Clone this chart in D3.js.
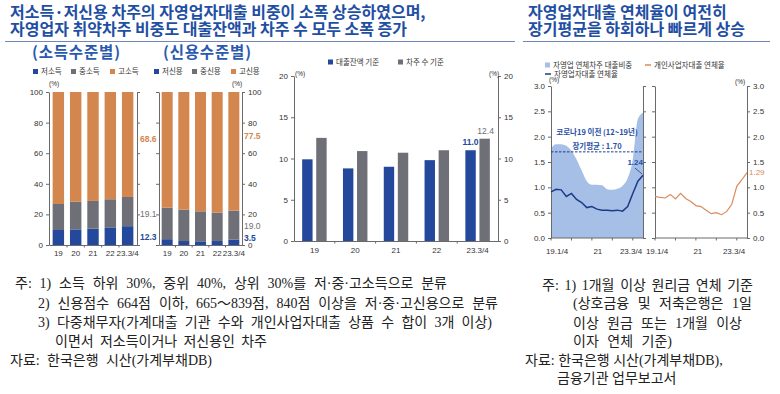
<!DOCTYPE html>
<html>
<head>
<meta charset="utf-8">
<script src="https://cdn.jsdelivr.net/npm/d3@7"></script>
<style>
body { margin: 0; background: #fff; }
text { font-family: 'Noto Sans CJK KR', 'Noto Sans', sans-serif; }
.tick text, .num { font-family: 'Liberation Sans', 'Noto Sans CJK KR', sans-serif; }
.note { font-family: 'Liberation Serif', 'Noto Sans CJK KR', serif; }
</style>
</head>
<body>
<svg id="chart" width="780" height="394"></svg>
<script>
'use strict';

// categories
let years = ['19', '20', '21', '22', '23.3/4'];
let quarters = ['19.1/4', '19.2/4', '19.3/4', '19.4/4', '20.1/4', '20.2/4', '20.3/4', '20.4/4',
    '21.1/4', '21.2/4', '21.3/4', '21.4/4', '22.1/4', '22.2/4', '22.3/4', '22.4/4',
    '23.1/4', '23.2/4', '23.3/4'];

// income level shares (%)
let incomeLow = [9.8, 10.2, 10.7, 11.5, 12.3];
let incomeMid = [17.0, 18.1, 18.1, 18.4, 19.1];
let incomeHigh = [73.2, 71.7, 71.2, 70.1, 68.6];

// credit level shares (%)
let creditLow = [3.8, 2.6, 2.4, 2.6, 3.5];
let creditMid = [20.6, 20.5, 19.6, 18.6, 19.0];
let creditHigh = [75.6, 76.9, 78.0, 78.8, 77.5];

// vulnerable borrowers share (%)
let byBalance = [9.9, 8.8, 9.0, 9.8, 11.0];
let byBorrowers = [12.5, 10.9, 10.7, 11.0, 12.4];

// delinquency (%)
let arrearShare = [1.77, 1.85, 1.85, 1.82, 1.72, 1.55, 1.33, 1.12, 1.05, 1.05, 1.04, 0.96,
    0.95, 0.97, 1.03, 1.18, 1.55, 2.35, 2.47];
let selfEmpRate = [0.91, 0.96, 0.95, 0.82, 0.88, 0.76, 0.70, 0.60, 0.62, 0.57, 0.55, 0.55,
    0.54, 0.55, 0.53, 0.62, 0.88, 1.12, 1.24];
let soleRate = [0.82, 0.80, 0.79, 0.86, 0.77, 0.88, 0.78, 0.72, 0.64, 0.62, 0.55, 0.48,
    0.50, 0.46, 0.52, 0.66, 1.02, 1.15, 1.29];
let longAvg = 1.70;

let COLOR = {
    BLUE: '#24489b',
    GRAY: '#6e6f77',
    ORANGE: '#d4864f',
    TITLE: '#1f4fa3',
    AREA: '#a6bfe7',
    LINE: '#1d3a87',
    SOLE: '#d98b58',
    AXIS: '#6a6a6a',
    TEXT: '#333'
};

let svg = d3.select('#chart');

// ---- titles (one text, two lines)
function title(x, lines, lineEnd) {
    let t = svg.append('text').attr('font-size', 16).attr('font-weight', 700).attr('fill', COLOR.TITLE);
    lines.forEach(function(s, i) {
        t.append('tspan').attr('x', x).attr('y', 18 + i * 17).text(s);
    });
    svg.append('line').attr('x1', x - 5).attr('x2', lineEnd)
        .attr('y1', 41.5).attr('y2', 41.5)
        .attr('stroke', '#6d87b8').attr('stroke-width', 1);
}
title(10, ['저소득·저신용 차주의 자영업자대출 비중이 소폭 상승하였으며,',
    '자영업자 취약차주 비중도 대출잔액과 차주 수 모두 소폭 증가'], 515);
title(528, ['자영업자대출 연체율이 여전히', '장기평균을 하회하나 빠르게 상승'], 770);

svg.append('text').attr('x', 32).attr('y', 58).attr('font-size', 15.5).attr('font-weight', 700)
    .attr('fill', '#2a5ab0').attr('textLength', 88).text('(소득수준별)');
svg.append('text').attr('x', 163).attr('y', 58).attr('font-size', 15.5).attr('font-weight', 700)
    .attr('fill', '#2a5ab0').attr('textLength', 88).text('(신용수준별)');

// ---- legend helpers
function legendBox(x, y, color, label) {
    svg.append('rect').attr('x', x).attr('y', y - 2.5).attr('width', 5).attr('height', 5).attr('fill', color);
    svg.append('text').attr('x', x + 8).attr('y', y + 2.5).attr('font-size', 7.5)
        .attr('fill', COLOR.TEXT).text(label);
}
function legendLine(x, y, color, label) {
    svg.append('line').attr('x1', x).attr('x2', x + 6).attr('y1', y).attr('y2', y)
        .attr('stroke', color).attr('stroke-width', 1.5);
    svg.append('text').attr('x', x + 9).attr('y', y + 2.5).attr('font-size', 7.5)
        .attr('fill', COLOR.TEXT).text(label);
}

// ---- stacked bars
let yPct = d3.scaleLinear().domain([0, 100]).range([245, 92]);

function stackChart(left, right, po, low, mid, high, labelSide) {
    let x = d3.scaleBand().domain(years).range([left, right]).paddingInner(0.34).paddingOuter(po);
    let rows = years.map(function(d, i) { return { k: d, low: low[i], mid: mid[i], high: high[i] }; });
    let series = d3.stack().keys(['low', 'mid', 'high'])(rows);
    let fills = { low: COLOR.BLUE, mid: COLOR.GRAY, high: COLOR.ORANGE };
    let g = svg.append('g');
    g.selectAll('g').data(series).enter().append('g')
        .attr('fill', function(s) { return fills[s.key]; })
        .selectAll('rect').data(function(s) { return s; }).enter().append('rect')
        .attr('x', function(d) { return x(d.data.k); })
        .attr('y', function(d) { return yPct(d[1]); })
        .attr('width', x.bandwidth())
        .attr('height', function(d) { return yPct(d[0]) - yPct(d[1]); });

    // axes
    let ticks = [0, 20, 40, 60, 80, 100];
    let la = g.append('g').attr('transform', 'translate(' + left + ',0)')
        .call(d3.axisLeft(yPct).tickValues(ticks).tickSize(3).tickSizeOuter(0));
    let ra = g.append('g').attr('transform', 'translate(' + right + ',0)')
        .call(d3.axisRight(yPct).tickValues(ticks).tickSize(3).tickSizeOuter(0));
    if (labelSide === 'left') ra.selectAll('text').remove(); else la.selectAll('text').remove();
    g.append('g').attr('transform', 'translate(0,245)')
        .call(d3.axisBottom(x).tickSize(0).tickPadding(5));
    // small ticks between categories
    years.slice(1).forEach(function(d) {
        let xx = x(d) - x.step() * 0.34 / 2;
        g.append('line').attr('x1', xx).attr('x2', xx).attr('y1', 245).attr('y2', 247.5)
            .attr('stroke', COLOR.AXIS);
    });
    return { x: x, g: g };
}

stackChart(49, 137, 0.21, incomeLow, incomeMid, incomeHigh, 'left');
stackChart(159, 242, 0.16, creditLow, creditMid, creditHigh, 'right');

legendBox(33, 71.5, COLOR.BLUE, '저소득');
legendBox(71, 71.5, COLOR.GRAY, '중소득');
legendBox(110, 71.5, COLOR.ORANGE, '고소득');
legendBox(154, 71.5, COLOR.BLUE, '저신용');
legendBox(192, 71.5, COLOR.GRAY, '중신용');
legendBox(231, 71.5, COLOR.ORANGE, '고신용');

function unit(x, y) {
    svg.append('text').attr('class', 'num').attr('x', x).attr('y', y).attr('font-size', 6.5)
        .attr('fill', COLOR.TEXT).text('(%)');
}
unit(49, 86);
unit(232, 86);

// value labels of the last bars
function valLabel(x, y, color, s, bold) {
    svg.append('text').attr('class', 'num').attr('x', x).attr('y', y).attr('dy', '0.35em')
        .attr('font-size', 8.5).attr('font-weight', bold ? 700 : 400)
        .attr('fill', color).text(s);
}
valLabel(140, 139, COLOR.ORANGE, incomeHigh[4].toFixed(1), true);
valLabel(140, 214, COLOR.GRAY, incomeMid[4].toFixed(1), false);
valLabel(140, 237, COLOR.BLUE, incomeLow[4].toFixed(1), true);
valLabel(244, 136, COLOR.ORANGE, creditHigh[4].toFixed(1), true);
valLabel(244, 226, COLOR.GRAY, creditMid[4].toFixed(1), false);
valLabel(244, 238, COLOR.BLUE, creditLow[4].toFixed(1), true);

// ---- grouped bars
let x0 = d3.scaleBand().domain(years).range([294, 498]).paddingInner(0.4).paddingOuter(0.2);
let x1 = d3.scaleBand().domain(['balance', 'borrowers']).range([0, x0.bandwidth()]).paddingInner(0.26);
let y3 = d3.scaleLinear().domain([0, 20]).range([241, 76]);
let g3 = svg.append('g');
let groups = g3.selectAll('g.grp')
    .data(years.map(function(d, i) { return { k: d, v: [['balance', byBalance[i]], ['borrowers', byBorrowers[i]]] }; }))
    .enter().append('g').attr('class', 'grp')
    .attr('transform', function(d) { return 'translate(' + x0(d.k) + ',0)'; });
groups.selectAll('rect').data(function(d) { return d.v; }).enter().append('rect')
    .attr('x', function(d) { return x1(d[0]); })
    .attr('y', function(d) { return y3(d[1]); })
    .attr('width', x1.bandwidth())
    .attr('height', function(d) { return y3(0) - y3(d[1]); })
    .attr('fill', function(d) { return d[0] === 'balance' ? COLOR.BLUE : COLOR.GRAY; });

let t3 = [0, 5, 10, 15, 20];
g3.append('g').attr('transform', 'translate(294,0)')
    .call(d3.axisLeft(y3).tickValues(t3).tickSize(3).tickSizeOuter(0));
g3.append('g').attr('transform', 'translate(498,0)')
    .call(d3.axisRight(y3).tickValues(t3).tickSize(3).tickSizeOuter(0));
g3.append('g').attr('transform', 'translate(0,241)')
    .call(d3.axisBottom(x0).tickSize(0).tickPadding(6));
years.slice(1).forEach(function(d) {
    let xx = x0(d) - x0.step() * 0.4 / 2;
    g3.append('line').attr('x1', xx).attr('x2', xx).attr('y1', 241).attr('y2', 243.5)
        .attr('stroke', COLOR.AXIS);
});
unit(295, 76);
unit(489, 76);
legendBox(328, 62, COLOR.BLUE, '대출잔액 기준');
legendBox(398, 62, COLOR.GRAY, '차주 수 기준');

let lastX = x0(years[4]);
svg.append('text').attr('class', 'num').attr('x', lastX + x1('balance') + x1.bandwidth() / 2)
    .attr('y', y3(byBalance[4]) - 5).attr('text-anchor', 'middle')
    .attr('font-size', 8.5).attr('font-weight', 700).attr('fill', COLOR.BLUE).text(byBalance[4].toFixed(1));
svg.append('text').attr('class', 'num').attr('x', lastX + x1('borrowers') + x1.bandwidth() / 2 + 1)
    .attr('y', y3(byBorrowers[4]) - 5).attr('text-anchor', 'middle')
    .attr('font-size', 8.5).attr('fill', COLOR.GRAY).text(byBorrowers[4].toFixed(1));

// ---- delinquency panels
let yR = d3.scaleLinear().domain([0, 3]).range([238, 86]);
let rTicks = [0, 0.5, 1, 1.5, 2, 2.5, 3];

function ratePanel(left, right, side, offs) {
    let x = d3.scalePoint().domain(quarters).range([left, right]);
    let g = svg.append('g');
    let la = g.append('g').attr('transform', 'translate(' + left + ',0)')
        .call(d3.axisLeft(yR).tickValues(rTicks).tickSize(3).tickSizeOuter(0)
            .tickFormat(d3.format('.1f')));
    let ra = g.append('g').attr('transform', 'translate(' + right + ',0)')
        .call(d3.axisRight(yR).tickValues(rTicks).tickSize(3).tickSizeOuter(0)
            .tickFormat(d3.format('.1f')));
    if (side === 'left') ra.selectAll('text').remove(); else la.selectAll('text').remove();
    g.append('line').attr('x1', left).attr('x2', right).attr('y1', 238).attr('y2', 238)
        .attr('stroke', COLOR.AXIS);
    [0, 4, 8, 12, 16].forEach(function(i) {
        let xx = x(quarters[i]);
        g.append('line').attr('x1', xx).attr('x2', xx).attr('y1', 238).attr('y2', 240.5)
            .attr('stroke', COLOR.AXIS);
    });
    [[0, '19.1/4'], [8, '21'], [18, '23.3/4']].forEach(function(p, i) {
        g.append('text').attr('class', 'num').attr('x', x(quarters[p[0]]) + offs[i]).attr('y', 254)
            .attr('text-anchor', 'middle').attr('font-size', 8).attr('fill', COLOR.TEXT).text(p[1]);
    });
    return { x: x, g: g };
}

let pA = ratePanel(551, 643, 'left', [6, 6, -12]);
let pB = ratePanel(655, 747, 'right', [2, 2, -13]);

let gA = svg.insert('g', ':first-child');
gA.append('path').datum(arrearShare)
    .attr('d', d3.area()
        .x(function(d, i) { return pA.x(quarters[i]); })
        .y0(yR(0)).y1(function(d) { return yR(d); })
        .curve(d3.curveMonotoneX))
    .attr('fill', COLOR.AREA);

pA.g.append('line').attr('x1', 551).attr('x2', 643).attr('y1', yR(longAvg)).attr('y2', yR(longAvg))
    .attr('stroke', COLOR.LINE).attr('stroke-width', 1).attr('stroke-dasharray', '2.5,1.5');
pA.g.append('path').datum(selfEmpRate)
    .attr('d', d3.line()
        .x(function(d, i) { return pA.x(quarters[i]); })
        .y(function(d) { return yR(d); }))
    .attr('fill', 'none').attr('stroke', COLOR.LINE).attr('stroke-width', 1.5);
pA.g.append('text').attr('x', 597).attr('y', 135).attr('text-anchor', 'middle')
    .attr('font-size', 7.5).attr('font-weight', 700).attr('fill', '#2850a5').text('코로나19 이전 (12~19년)');
pA.g.append('text').attr('x', 597).attr('y', 148.5).attr('text-anchor', 'middle')
    .attr('font-size', 7.5).attr('font-weight', 700).attr('fill', '#2850a5').text('장기평균 : ' + longAvg.toFixed(2));
pA.g.append('text').attr('class', 'num').attr('x', 643).attr('y', 164.5).attr('text-anchor', 'end')
    .attr('font-size', 8).attr('font-weight', 700).attr('fill', '#2850a5')
    .text(selfEmpRate[selfEmpRate.length - 1].toFixed(2));
pA.g.append('line').attr('x1', 635).attr('x2', 642).attr('y1', 168).attr('y2', 174)
    .attr('stroke', COLOR.LINE).attr('stroke-width', 0.8);

pB.g.append('path').datum(soleRate)
    .attr('d', d3.line()
        .x(function(d, i) { return pB.x(quarters[i]); })
        .y(function(d) { return yR(d); }))
    .attr('fill', 'none').attr('stroke', COLOR.SOLE).attr('stroke-width', 1.2);
pB.g.append('text').attr('class', 'num').attr('x', 749).attr('y', yR(1.29)).attr('dy', '0.35em')
    .attr('font-size', 8).attr('fill', COLOR.SOLE).text(soleRate[soleRate.length - 1].toFixed(2));

unit(549, 82);
unit(735, 84);

legendBox(545, 65, COLOR.AREA, '자영업 연체차주 대출비중');
legendLine(545, 74, COLOR.LINE, '자영업자대출 연체율');
legendLine(645, 65, COLOR.SOLE, '개인사업자대출 연체율');

// ---- axis styling
svg.selectAll('.domain').attr('stroke', COLOR.AXIS);
svg.selectAll('.tick line').attr('stroke', COLOR.AXIS);
svg.selectAll('.tick text').attr('font-size', 8).attr('fill', COLOR.TEXT);

// ---- footnotes: widen word gaps a little toward the reference's line ends
function note(x, y, s, w) {
    let t = svg.append('text').attr('class', 'note').attr('x', x).attr('y', y).attr('dy', '0.35em')
        .attr('font-size', 14).attr('fill', '#222').text(s);
    let gaps = s.split(' ').length - 1;
    let extra = w - t.node().getComputedTextLength();
    if (gaps > 0) t.attr('word-spacing', Math.min(5, Math.max(0, extra / gaps)));
}
note(15, 283, '주: 1) 소득 하위 30%, 중위 40%, 상위 30%를 저·중·고소득으로 분류', 432);
note(38, 303, '2) 신용점수 664점 이하, 665～839점, 840점 이상을 저·중·고신용으로 분류', 460);
note(38, 322, '3) 다중채무자(가계대출 기관 수와 개인사업자대출 상품 수 합이 3개 이상)', 454);
note(55, 341.5, '이면서 저소득이거나 저신용인 차주', 212);
note(10, 360, '자료: 한국은행 시산(가계부채DB)', 202);

note(542, 285, '주: 1) 1개월 이상 원리금 연체 기준', 211);
note(573, 303.5, '(상호금융 및 저축은행은 1일', 180);
note(573, 323, '이상 원금 또는 1개월 이상', 169);
note(573, 341.5, '이자 연체 기준)', 99);
note(525, 360, '자료: 한국은행 시산(가계부채DB),', 193);
note(557, 378.5, '금융기관 업무보고서', 111);
</script>
</body>
</html>
